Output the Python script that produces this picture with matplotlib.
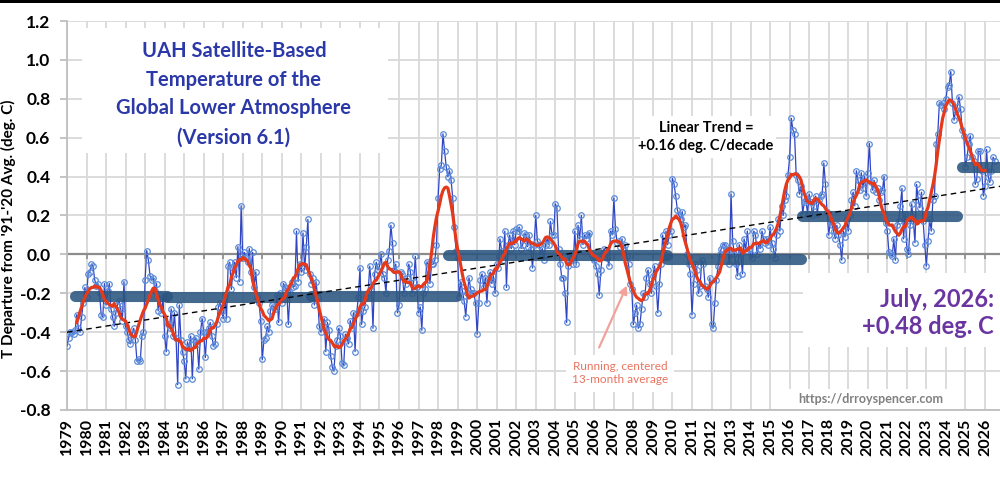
import numpy as np
import matplotlib
matplotlib.use('Agg')
import matplotlib.pyplot as plt
from matplotlib.patches import Rectangle

# monthly anomalies (deg C), Jan 1979 .. Jul 2026
uah_1979_1988 = [
    -0.47, -0.43, -0.40, -0.40, -0.41, -0.39, -0.31, -0.38, -0.40, -0.32, -0.25, -0.17,
    -0.22, -0.10, -0.09, -0.05, -0.06, -0.13, -0.16, -0.15, -0.20, -0.31, -0.32, -0.15,
    -0.26, -0.19, -0.15, -0.28, -0.32, -0.37, -0.30, -0.26, -0.24, -0.28, -0.34, -0.14,
    -0.37, -0.40, -0.44, -0.46, -0.41, -0.38, -0.44, -0.55, -0.54, -0.55, -0.42, -0.40,
    -0.13, 0.02, -0.03, -0.11, -0.13, -0.12, -0.19, -0.15, -0.29, -0.21, -0.30, -0.22,
    -0.42, -0.50, -0.36, -0.38, -0.28, -0.42, -0.30, -0.43, -0.67, -0.26, -0.44, -0.50,
    -0.55, -0.64, -0.45, -0.48, -0.42, -0.64, -0.44, -0.43, -0.46, -0.59, -0.40, -0.33,
    -0.40, -0.53, -0.40, -0.38, -0.35, -0.42, -0.47, -0.46, -0.36, -0.27, -0.25, -0.29,
    -0.33, -0.21, -0.33, -0.06, -0.04, -0.18, -0.07, -0.04, -0.12, 0.04, -0.14, 0.25,
    -0.02, 0.01, -0.02, -0.04, 0.03, -0.09, 0.01, -0.17, -0.09, -0.22, -0.25, -0.34,
]
uah_1989_1998 = [
    -0.54, -0.44, -0.43, -0.37, -0.40, -0.29, -0.26, -0.27, -0.28, -0.21, -0.35, -0.20,
    -0.25, -0.15, -0.17, -0.18, -0.36, -0.20, -0.14, -0.17, -0.16, 0.12, -0.14, -0.05,
    -0.09, 0.11, -0.08, 0.04, 0.18, -0.10, -0.15, -0.12, -0.26, -0.14, -0.22, -0.37,
    -0.40, -0.37, -0.33, -0.50, -0.35, -0.39, -0.52, -0.58, -0.60, -0.47, -0.44, -0.38,
    -0.42, -0.56, -0.57, -0.41, -0.43, -0.46, -0.34, -0.38, -0.30, -0.50, -0.30, -0.22,
    -0.07, -0.36, -0.29, -0.27, -0.22, -0.20, -0.06, -0.16, -0.38, -0.10, -0.04, -0.08,
    -0.06, 0.00, -0.10, -0.12, -0.20, -0.03, 0.02, 0.15, 0.06, -0.08, -0.05, -0.30,
    -0.26, -0.09, -0.10, -0.20, -0.15, -0.12, -0.05, -0.09, -0.20, -0.14, -0.01, -0.17,
    -0.30, -0.27, -0.39, -0.20, -0.18, -0.04, -0.05, -0.15, -0.05, -0.05, -0.03, 0.05,
    0.29, 0.44, 0.46, 0.62, 0.53, 0.45, 0.40, 0.43, 0.38, 0.29, 0.14, 0.02,
]
uah_1999_2008 = [
    -0.02, -0.22, -0.14, -0.19, -0.24, -0.32, -0.20, -0.12, -0.18, -0.20, -0.20, -0.25,
    -0.41, -0.25, -0.13, -0.10, -0.17, -0.12, -0.25, -0.12, -0.09, -0.15, -0.11, -0.20,
    -0.05, -0.07, 0.08, 0.02, -0.03, 0.12, -0.17, 0.05, 0.10, 0.03, 0.12, 0.05,
    0.13, 0.12, 0.14, 0.03, 0.05, 0.11, 0.10, 0.04, 0.10, 0.03, -0.07, 0.05,
    0.20, 0.07, 0.05, 0.00, 0.03, -0.03, 0.05, 0.08, 0.05, 0.17, 0.10, 0.10,
    0.26, 0.24, 0.03, -0.05, -0.12, -0.12, -0.20, -0.35, -0.06, -0.01, 0.00, -0.05,
    0.12, -0.05, 0.15, 0.08, 0.20, 0.05, 0.10, 0.08, 0.10, 0.11, 0.00, -0.02,
    -0.03, -0.06, -0.10, -0.21, -0.08, 0.00, 0.03, 0.01, -0.02, -0.06, 0.12, 0.10,
    0.29, 0.13, 0.06, 0.07, 0.04, 0.08, 0.03, 0.05, -0.01, -0.05, -0.15, -0.18,
    -0.36, -0.30, -0.26, -0.38, -0.36, -0.28, -0.20, -0.22, -0.12, -0.08, -0.15, -0.20,
]
uah_2009_2018 = [
    -0.11, -0.06, -0.16, -0.30, -0.15, -0.05, 0.10, 0.00, 0.12, 0.05, 0.10, 0.12,
    0.39, 0.36, 0.30, 0.23, 0.20, 0.18, 0.22, 0.14, 0.15, 0.00, -0.05, -0.10,
    -0.31, -0.15, -0.05, -0.08, -0.20, -0.16, -0.03, -0.05, -0.16, -0.18, -0.22, -0.12,
    -0.36, -0.38, -0.25, -0.13, -0.06, 0.00, 0.03, 0.05, 0.05, 0.03, 0.02, -0.05,
    0.31, 0.07, 0.00, -0.05, -0.11, 0.05, 0.00, -0.10, 0.08, 0.02, 0.12, 0.03,
    0.00, -0.02, 0.12, 0.10, 0.00, 0.05, 0.03, 0.12, 0.08, 0.06, 0.08, 0.05,
    0.14, 0.06, 0.03, -0.02, 0.10, 0.18, 0.12, 0.25, 0.20, 0.28, 0.30, 0.41,
    0.50, 0.70, 0.64, 0.62, 0.41, 0.38, 0.31, 0.35, 0.21, 0.27, 0.28, 0.21,
    0.31, 0.27, 0.20, 0.25, 0.30, 0.21, 0.28, 0.30, 0.31, 0.47, 0.36, 0.22,
    0.10, 0.17, 0.15, 0.12, 0.08, 0.15, 0.10, 0.05, -0.03, 0.12, 0.09, 0.18,
]
uah_2019_2026 = [
    0.12, 0.20, 0.28, 0.32, 0.25, 0.43, 0.38, 0.33, 0.42, 0.34, 0.40, 0.30,
    0.42, 0.57, 0.37, 0.33, 0.38, 0.32, 0.34, 0.28, 0.32, 0.33, 0.40, 0.16,
    0.12, 0.01, 0.00, -0.01, 0.08, -0.03, 0.15, 0.17, 0.25, 0.34, 0.08, 0.21,
    0.03, 0.00, 0.15, 0.26, 0.17, 0.06, 0.36, 0.28, 0.24, 0.32, 0.17, 0.05,
    -0.06, 0.07, 0.18, 0.12, 0.28, 0.30, 0.57, 0.62, 0.78, 0.77, 0.78, 0.75,
    0.80, 0.86, 0.87, 0.94, 0.78, 0.69, 0.74, 0.76, 0.81, 0.75, 0.64, 0.61,
    0.45, 0.50, 0.57, 0.61, 0.50, 0.48, 0.36, 0.39, 0.53, 0.53, 0.43, 0.30,
    0.35, 0.54, 0.40, 0.37, 0.43, 0.50, 0.48,
]

# hand-drawn "step" bars (start year, end year, level)
step_start = [1979.4, 1984.1, 1991.5, 1998.5, 2009.7, 2016.65, 2024.8]
step_end = [1984.1, 1991.4, 1998.9, 2009.7, 2016.6, 2024.55, 2026.9]
step_level = [-0.215, -0.22, -0.215, -0.005, -0.025, 0.195, 0.45]

# linear trend end points
trend_years = [1979.0, 2026.77]
trend_vals = [-0.40, 0.35]

years = list(range(1979, 2027))
y_ticks = [-0.8, -0.6, -0.4, -0.2, 0.0, 0.2, 0.4, 0.6, 0.8, 1.0, 1.2]

plt.rcParams['font.family'] = ['Lato', 'DejaVu Sans']

W, H = 1000, 478


def fx(px):
    return px / W


def fy(py):
    return 1 - py / H


vals = np.array(uah_1979_1988 + uah_1989_1998 + uah_1999_2008
                + uah_2009_2018 + uah_2019_2026)
t = 1979 + np.arange(len(vals)) / 12.0
run = np.convolve(vals, np.ones(13) / 13.0, mode='valid')
t_run = t[6:-6]

fig = plt.figure(figsize=(W / 100, H / 100), dpi=100)
ax = fig.add_axes([fx(67), (H - 410) / H, (W - 67) / W, 389 / H])
ax.set_xlim(1979.0, 2026.77)
ax.set_ylim(-0.8, 1.2)

# grid
ax.set_axisbelow(True)
ax.set_xticks(years)
ax.set_xticklabels([str(y) for y in years], rotation=90)
ax.set_yticks(y_ticks)
ax.set_yticklabels([f'{v:.1f}' for v in y_ticks])
ax.grid(True, color='#D9D9D9', lw=1.3)
ax.axhline(0, color='#8C8C8C', lw=1.6, zorder=1)
ax.vlines(years, -0.022, 0, color='#8C8C8C', lw=1.2, zorder=1)

for s in ['top', 'right']:
    ax.spines[s].set_visible(False)
for s in ['left', 'bottom']:
    ax.spines[s].set_color('#BFBFBF')
    ax.spines[s].set_linewidth(1.3)

ax.tick_params(axis='y', direction='out', length=5, color='#BFBFBF', width=1.3,
               pad=7, labelsize=12.5)
ax.tick_params(axis='x', length=0, pad=6, labelsize=11.5)
for lab in ax.get_xticklabels() + ax.get_yticklabels():
    lab.set_fontweight('bold')

# monthly data
ax.plot(t, vals, color='#2F45C4', lw=0.9, marker='o', ms=4.0, mfc='none',
        mec='#5B8BD9', mew=0.9, zorder=3)

# step bars
for s, e, lv in zip(step_start, step_end, step_level):
    ax.plot([s, e], [lv, lv], color='#2B5580', lw=8, alpha=0.88,
            solid_capstyle='round', zorder=4)

ax.plot(trend_years, trend_vals, color='black', lw=1.0, ls=(0, (4, 3)), zorder=4.5)

# running 13-month average
ax.plot(t_run, run, color='#E5391C', lw=2.3, zorder=5)

# white boxes behind the annotations
for x0, y0, x1, y1 in [(82, 28, 388, 153), (640, 116, 776, 158),
                       (803, 273, 1000, 347), (786, 389, 956, 409),
                       (566, 355, 674, 392)]:
    fig.add_artist(Rectangle((fx(x0), fy(y1)), (x1 - x0) / W, (y1 - y0) / H,
                             transform=fig.transFigure, facecolor='white',
                             edgecolor='none', zorder=1))

fig.text(fx(234), fy(94), 'UAH Satellite-Based\nTemperature of the\n'
         'Global Lower Atmosphere\n(Version 6.1)', ha='center', va='center',
         color='#2B38A8', fontsize=14.5, fontweight='bold', linespacing=1.55,
         zorder=6)
fig.text(fx(706), fy(137), 'Linear Trend =\n+0.16 deg. C/decade', ha='center',
         va='center', fontsize=10.5, fontweight='bold', linespacing=1.45, zorder=6)
fig.text(fx(994), fy(313), 'July, 2026:\n+0.48 deg. C', ha='right', va='center',
         color='#6A35A0', fontsize=17, fontweight='bold', linespacing=1.2,
         zorder=6)
fig.text(fx(871), fy(399), 'https://drroyspencer.com', ha='center', va='center',
         color='#808080', fontsize=9, fontweight='bold', zorder=6)
fig.text(fx(620), fy(373), 'Running, centered\n13-month average', ha='center',
         va='center', color='#E8735F', fontsize=8.5, linespacing=1.25, zorder=6)
fig.text(fx(8), fy(229), "T Departure from '91-'20 Avg. (deg. C)", rotation=90,
         ha='center', va='center', fontsize=11, fontweight='bold', zorder=6)

ax.annotate('', xy=(fx(628), fy(283)), xycoords='figure fraction',
            xytext=(fx(598), fy(350)), textcoords='figure fraction',
            arrowprops=dict(arrowstyle='-|>', color='#F2A29A', lw=1.6,
                            mutation_scale=12), zorder=6)

# dark strip along the top edge
fig.add_artist(Rectangle((0, fy(3)), 1, 3 / H, transform=fig.transFigure,
                         facecolor='black', edgecolor='none', zorder=7))

fig.savefig('out.png', dpi=100)
